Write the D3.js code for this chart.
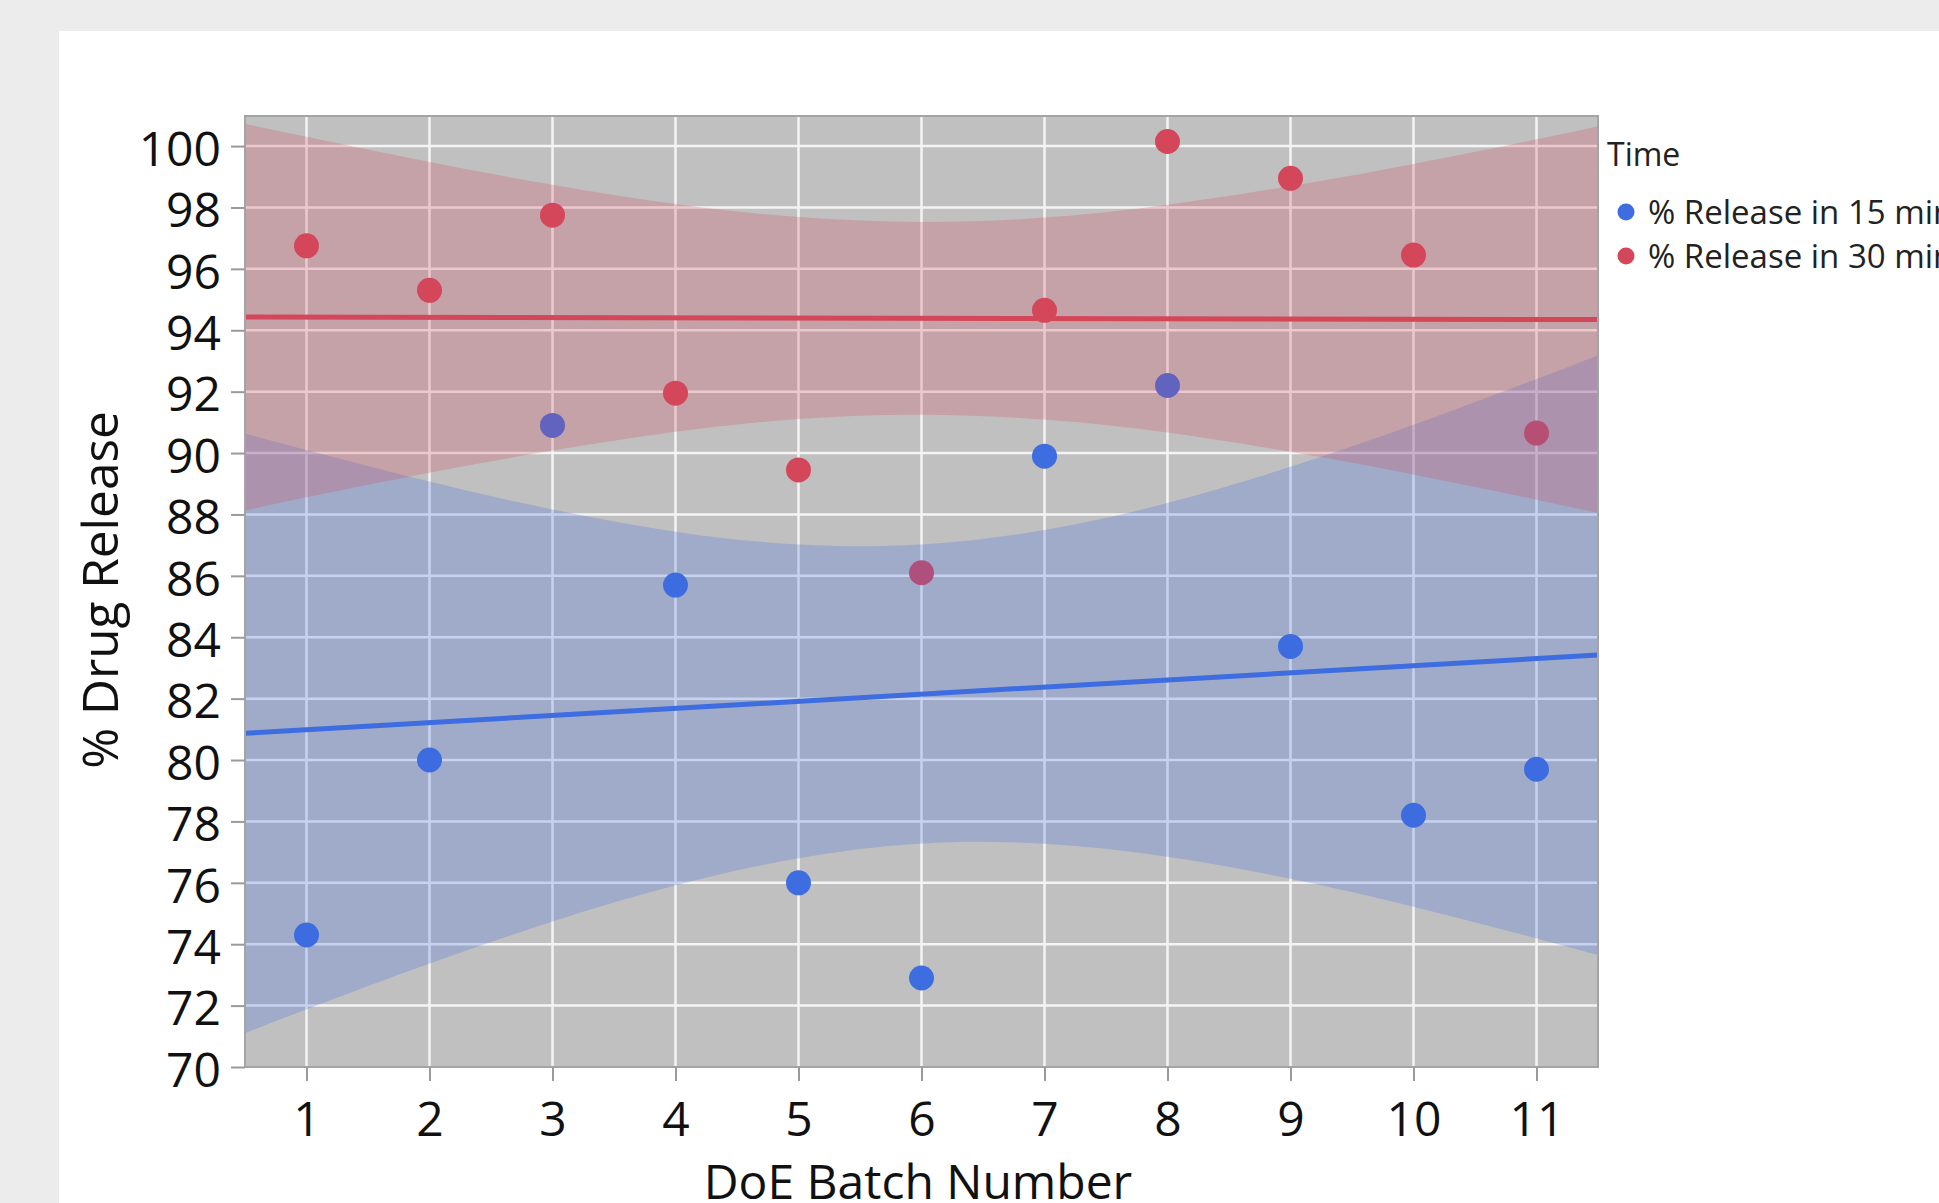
<!DOCTYPE html>
<html>
<head>
<meta charset="utf-8">
<script src="https://cdn.jsdelivr.net/npm/d3@7"></script>
<style>
  body { margin: 0; background: #ececec; }
  svg { display: block; font-family: "Open Sans", "Noto Sans", sans-serif; }
</style>
</head>
<body>
<svg id="chart"></svg>
<script>
// batch numbers and measured release values
const batches = [1, 2, 3, 4, 5, 6, 7, 8, 9, 10, 11];
const release15 = [74.3, 80.0, 90.9, 85.7, 76.0, 72.9, 89.9, 92.2, 83.7, 78.2, 79.7];
const release30 = [96.75, 95.3, 97.75, 91.95, 89.45, 86.1, 94.65, 100.15, 98.95, 96.45, 90.65];

// fitted lines, read at the plot edges
const fitX = [0.5, 11.5];
const fit15 = [80.87, 83.42];
const fit30 = [94.43, 94.35];

// confidence band edges
const bandX = [0.5, 1, 2, 3, 4, 5, 6, 7, 8, 9, 10, 11, 11.5];
const band15Upper = [90.64, 90.10, 89.07, 88.16, 87.44, 87.02, 87.02, 87.49, 88.37, 89.55, 90.92, 92.41, 93.19];
const band15Lower = [71.10, 71.88, 73.37, 74.74, 75.92, 76.80, 77.28, 77.27, 76.85, 76.13, 75.22, 74.19, 73.65];
const band30Upper = [100.73, 100.30, 99.48, 98.74, 98.11, 97.69, 97.53, 97.67, 98.09, 98.70, 99.42, 100.22, 100.65];
const band30Lower = [88.13, 88.56, 89.36, 90.08, 90.69, 91.11, 91.25, 91.09, 90.67, 90.04, 89.30, 88.48, 88.05];

const yTicks = d3.range(70, 101, 2);
const seriesNames = ['% Release in 15 min', '% Release in 30 min'];
const colors = ['#3d6de0', '#d4475a'];

const width = 1939, height = 1203;
const plotL = 245, plotR = 1598, plotT = 116, plotB = 1067;

const svg = d3.select('#chart').attr('width', width).attr('height', height);

// white panel
svg.append('rect')
  .attr('x', 59).attr('y', 31)
  .attr('width', width - 59).attr('height', height - 31)
  .attr('fill', '#fff');

const x = d3.scaleLinear().domain([0.5, 11.5]).range([plotL, plotR]);
const y = d3.scaleLinear().domain([70, 100.98]).range([plotB, plotT]);

svg.append('defs').append('clipPath').attr('id', 'plot-clip')
  .append('rect')
  .attr('x', plotL).attr('y', plotT)
  .attr('width', plotR - plotL).attr('height', plotB - plotT);

svg.append('rect')
  .attr('x', plotL).attr('y', plotT)
  .attr('width', plotR - plotL).attr('height', plotB - plotT)
  .attr('fill', '#c0c0c0');

// grid
const grid = svg.append('g').attr('clip-path', 'url(#plot-clip)');
grid.selectAll('.hgrid')
  .data(yTicks.filter(d => d > 70))
  .enter().append('line')
  .attr('x1', plotL).attr('x2', plotR)
  .attr('y1', d => y(d)).attr('y2', d => y(d))
  .attr('stroke', '#f4f4f4').attr('stroke-width', 2.5);
grid.selectAll('.vgrid')
  .data(batches)
  .enter().append('line')
  .attr('x1', d => x(d)).attr('x2', d => x(d))
  .attr('y1', plotT).attr('y2', plotB)
  .attr('stroke', '#f4f4f4').attr('stroke-width', 2.5);

const plot = svg.append('g').attr('clip-path', 'url(#plot-clip)');

// points sit under the bands
[release15, release30].forEach((vals, i) => {
  plot.selectAll('.pt' + i)
    .data(vals)
    .enter().append('circle')
    .attr('cx', (d, j) => x(batches[j]))
    .attr('cy', d => y(d))
    .attr('r', 12.5)
    .attr('fill', colors[i]);
});

const area = (up, lo) => d3.area()
  .x((d, i) => x(bandX[i]))
  .y0((d, i) => y(lo[i]))
  .y1((d, i) => y(up[i]))
  .curve(d3.curveNatural)(bandX);

plot.append('path')
  .attr('d', area(band15Upper, band15Lower))
  .attr('fill', colors[0]).attr('fill-opacity', 0.25);
plot.append('path')
  .attr('d', area(band30Upper, band30Lower))
  .attr('fill', colors[1]).attr('fill-opacity', 0.25);

const line = d3.line().x((d, i) => x(fitX[i])).y(d => y(d));
[fit15, fit30].forEach((vals, i) => {
  plot.append('path')
    .attr('d', line(vals))
    .attr('fill', 'none')
    .attr('stroke', colors[i])
    .attr('stroke-width', 5);
});

// plot frame
svg.append('rect')
  .attr('x', plotL).attr('y', plotT)
  .attr('width', plotR - plotL).attr('height', plotB - plotT)
  .attr('fill', 'none').attr('stroke', '#a4a4a4').attr('stroke-width', 2);

// axes
const yAxis = svg.append('g')
  .attr('transform', `translate(${plotL},0)`)
  .call(d3.axisLeft(y).tickValues(yTicks).tickSize(14).tickPadding(10));
const xAxis = svg.append('g')
  .attr('transform', `translate(0,${plotB})`)
  .call(d3.axisBottom(x).tickValues(batches).tickSize(14).tickFormat(d3.format('d')));

[yAxis, xAxis].forEach(ax => {
  ax.select('.domain').remove();
  ax.selectAll('.tick line').attr('stroke', '#9a9a9a').attr('stroke-width', 2);
  ax.selectAll('.tick text')
    .attr('fill', '#111')
    .style('font-size', '48px')
    .style('font-family', '"Open Sans", sans-serif');
});
yAxis.selectAll('.tick text').attr('dy', '0.4em');
xAxis.selectAll('.tick text').attr('y', 69).attr('dy', 0);

// axis titles
svg.append('text')
  .attr('transform', `translate(118,590) rotate(-90)`)
  .attr('text-anchor', 'middle')
  .style('font-size', '49.5px')
  .attr('fill', '#111')
  .text('% Drug Release');

svg.append('text')
  .attr('x', 918).attr('y', 1199)
  .attr('text-anchor', 'middle')
  .style('font-size', '48px')
  .attr('fill', '#111')
  .text('DoE Batch Number');

// legend
const legend = svg.append('g');
legend.append('text')
  .attr('x', 1607).attr('y', 166)
  .style('font-size', '32px')
  .attr('fill', '#222')
  .text('Time');

seriesNames.forEach((name, i) => {
  const cy = 212 + i * 44;
  legend.append('circle')
    .attr('cx', 1626).attr('cy', cy).attr('r', 8.5)
    .attr('fill', colors[i]);
  legend.append('text')
    .attr('x', 1648).attr('y', cy + 12)
    .style('font-size', '33px')
    .attr('fill', '#222')
    .text(name);
});
</script>
</body>
</html>
